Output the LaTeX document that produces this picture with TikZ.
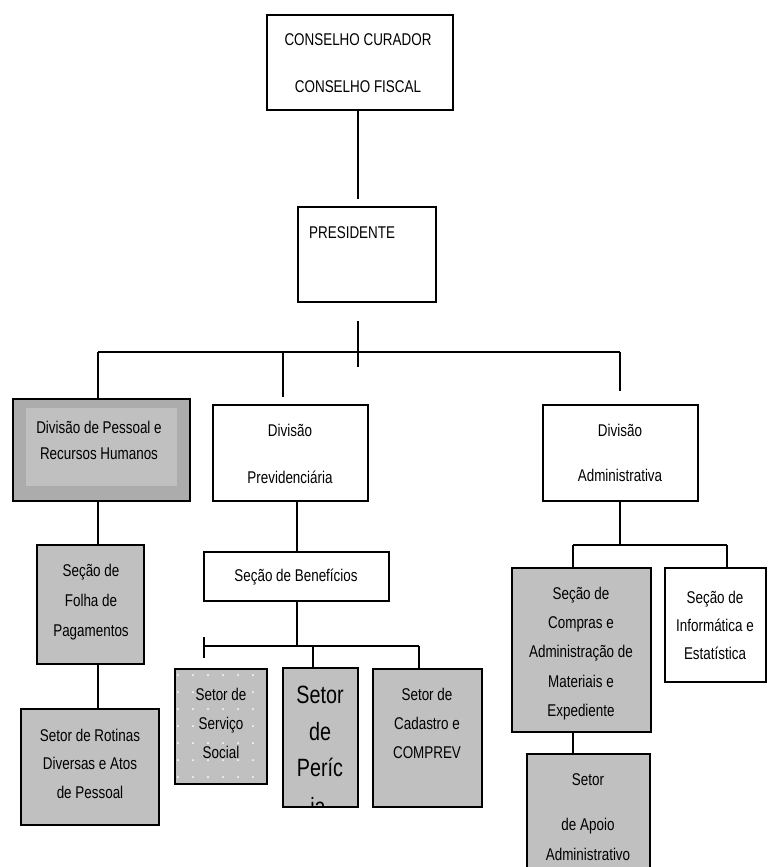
\documentclass[tikz,border=0pt]{standalone}
\usepackage{fontspec}
\setmainfont{Liberation Sans}
\newfontfamily\nar[FakeStretch=0.79]{Liberation Sans}
\usetikzlibrary{calc}
\definecolor{boxgray}{RGB}{192,192,192}
\definecolor{rimgray}{RGB}{172,172,172}
\begin{document}
\begin{tikzpicture}[x=1pt,y=-1pt,
  box/.style={draw=black, line width=1.8pt, inner sep=0pt, fill=white},
  gbox/.style={box, fill=boxgray},
  lbl/.style={font=\nar\fontsize{17}{#1}\selectfont, align=center, inner sep=0pt},
  lbl/.default=29,
  big/.style={font=\nar\fontsize{25}{36.5}\selectfont, align=center, inner sep=0pt},
  conn/.style={line width=1.6pt}
]
\useasboundingbox (0,0) rectangle (769,867);
\clip (0,0) rectangle (769,867);
\fill[white] (0,0) rectangle (769,867);

% ---------- boxes ----------
\node[box, minimum width=186pt, minimum height=95pt] (cons) at (360,62.5) {};
\node[box, minimum width=138pt, minimum height=95pt] (pres) at (367,254.5) {};
\node[box, fill=rimgray, minimum width=177pt, minimum height=102pt] (dpes) at (101.5,450) {};
\fill[boxgray] (26,408) rectangle (177,486);
\node[box, minimum width=155pt, minimum height=96pt] (dprev) at (290.5,453) {};
\node[box, minimum width=155pt, minimum height=96pt] (dadm) at (620.5,453) {};
\node[gbox, minimum width=107pt, minimum height=119pt] (sfol) at (90.5,604.5) {};
\node[gbox, minimum width=138pt, minimum height=116pt] (srot) at (90,767) {};
\node[box, minimum width=185pt, minimum height=49pt] (sben) at (296.5,576.5) {};
\node[gbox, minimum width=92pt, minimum height=115pt] (sserv) at (221,726.5) {};
\foreach \dx in {178,193,...,253} \foreach \dy in {675,692,...,780}
  \fill[white] (\dx,\dy) circle (1pt);
\node[gbox, minimum width=75pt, minimum height=139pt] (sper) at (320.5,737.5) {};
\node[gbox, minimum width=109pt, minimum height=138pt] (scad) at (427.5,738) {};
\node[gbox, minimum width=139pt, minimum height=164pt] (scomp) at (581.5,650) {};
\node[box, minimum width=101pt, minimum height=114pt] (sinf) at (715.5,625) {};
\node[gbox, minimum width=123pt, minimum height=146pt] (sapo) at (588.5,827) {};

% ---------- connector x positions ----------
\coordinate (xc) at (358,0);
\coordinate (xl) at (98,0);
\coordinate (xm) at (283,0);
\coordinate (xr) at (620,0);
\coordinate (xp) at (297,0);
\coordinate (xb1) at (204,0);
\coordinate (xb2) at (313,0);
\coordinate (xb3) at (419,0);
\coordinate (xa1) at (573,0);
\coordinate (xa2) at (727,0);
\coordinate (busA) at (358,352);
\coordinate (busA1) at (358,321);
\coordinate (busA2) at (358,367);
\coordinate (busB) at (297,646);
\coordinate (busC) at (620,545);

% ---------- connectors ----------
\draw[conn] (cons.south -| xc) -- ($(pres.north -| xc)+(0,-7)$);
\draw[conn] (busA1) -- (busA2);
\draw[conn] (busA -| xl) -- (busA -| xr);
\draw[conn] (busA -| xl) -- (dpes.north -| xl);
\draw[conn] (busA -| xm) -- ($(dprev.north -| xm)+(0,-7)$);
\draw[conn] (busA -| xr) -- ($(dadm.north -| xr)+(0,-13)$);
\draw[conn] (dpes.south -| xl) -- (sfol.north -| xl);
\draw[conn] (sfol.south -| xl) -- (srot.north -| xl);
\draw[conn] (dprev.south -| xp) -- (sben.north -| xp);
\draw[conn] (sben.south -| xp) -- (busB);
\draw[conn] (busB -| xb1) -- (busB -| xb3);
\draw[conn] ($(busB -| xb1)+(0,-9)$) -- ($(busB -| xb1)+(0,12)$);
\draw[conn] (busB -| xb2) -- (sper.north -| xb2);
\draw[conn] (busB -| xb3) -- (scad.north -| xb3);
\draw[conn] (dadm.south -| xr) -- (busC);
\draw[conn] (busC -| xa1) -- (busC -| xa2);
\draw[conn] (busC -| xa1) -- (scomp.north -| xa1);
\draw[conn] (busC -| xa2) -- (sinf.north -| xa2);
\draw[conn] (scomp.south -| xa1) -- (sapo.north -| xa1);

% ---------- texts ----------
\node[lbl=47] (tcons) at (358,63.5) {CONSELHO CURADOR\\CONSELHO FISCAL};
\node[lbl, anchor=west] (tpres) at (309,233) {PRESIDENTE};
\node[lbl=26] (tdpes) at (99,440) {Divisão de Pessoal e\\Recursos Humanos};
\node[lbl=47] (tdprev) at (290,453.5) {Divisão\\Previdenciária};
\node[lbl=45] (tdadm) at (620,452.5) {Divisão\\Administrativa};
\node[lbl=30] (tsfol) at (91,602) {Seção de\\Folha de\\Pagamentos};
\node[lbl=28.5] (tsrot) at (90,763.5) {Setor de Rotinas\\Diversas e Atos\\de Pessoal};
\node[lbl] (tsben) at (296,577) {Seção de Benefícios};
\node[lbl] (tsserv) at (221,723) {Setor de\\Serviço\\Social};
\node[big] (tsper) at (320,731.5) {Setor\\de\\Períc};
\begin{scope}
  \clip (sper.south west) rectangle (sper.north east);
  \node[big, anchor=base] (tsper2) at (318,815) {ia};
\end{scope}
\node[lbl] (tscad) at (427,723) {Setor de\\Cadastro e\\COMPREV};
\node[lbl=29.25] (tscomp) at (581,653.5) {Seção de\\Compras e\\Administração de\\Materiais e\\Expediente};
\node[lbl=28] (tsinf) at (715,625) {Seção de\\Informática e\\Estatística};
\node[lbl=30] (tsapo) at (588,817.5) {Setor\\[15pt]de Apoio\\Administrativo};
\end{tikzpicture}
\end{document}
